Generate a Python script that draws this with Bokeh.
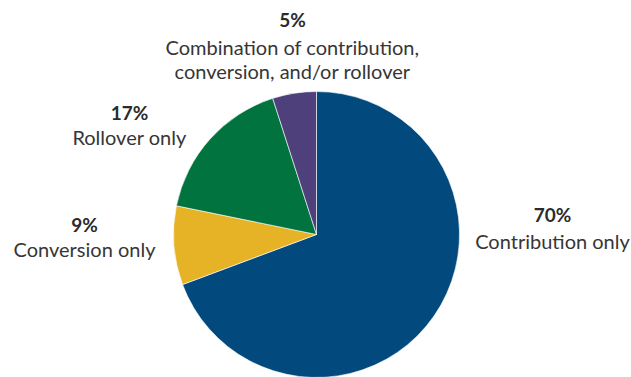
import numpy as np
from bokeh.plotting import figure
from bokeh.models import Range1d, ColumnDataSource
from bokeh.core.properties import value
from bokeh.embed import file_html
from bokeh.resources import INLINE

categories = ["Contribution only", "Conversion only", "Rollover only",
              "Combination of contribution,\nconversion, and/or rollover"]
percents = [70, 9, 17, 5]
colors = ["#024A7E", "#E6B226", "#00733F", "#4E407B"]

W, H = 631, 377
p = figure(width=W, height=H, output_backend="svg", toolbar_location=None,
           x_range=Range1d(0, W), y_range=Range1d(0, H), min_border=0)
p.axis.visible = False
p.grid.visible = False
p.outline_line_color = None
p.background_fill_color = "white"

vals = np.array(percents, dtype=float)
frac = vals / vals.sum()
cum = np.concatenate([[0], np.cumsum(frac)])
start = np.pi / 2 - cum[:-1] * 2 * np.pi
end = np.pi / 2 - cum[1:] * 2 * np.pi
cx, cy, r = 316, H - 234, 143
src = ColumnDataSource(dict(start=start, end=end, color=colors))
p.wedge(x=cx, y=cy, radius=r, start_angle="start", end_angle="end",
        direction="clock", fill_color="color", line_color="white",
        line_width=0.6, source=src)

# label positions (pixel coords, top-origin): x centre, y of % line, y of first text line
label_pos = [(552, 214, 240), (84, 224, 248), (129, 112, 136), (292, 19, 46)]
font = value("Lato")
for cat, pct, (lx, ly, ty) in zip(categories, percents, label_pos):
    p.text(x=[lx], y=[H - ly], text=[f"{pct}%"], text_align="center",
           text_baseline="middle", text_font=font, text_font_size="19px",
           text_font_style="bold", text_color="#2b2b2b")
    for i, line in enumerate(cat.split("\n")):
        p.text(x=[lx], y=[H - (ty + 24 * i)], text=[line], text_align="center",
               text_baseline="middle", text_font=font, text_font_size="20px",
               text_color="#363636")

open("out.html", "w").write(file_html(p, INLINE))
